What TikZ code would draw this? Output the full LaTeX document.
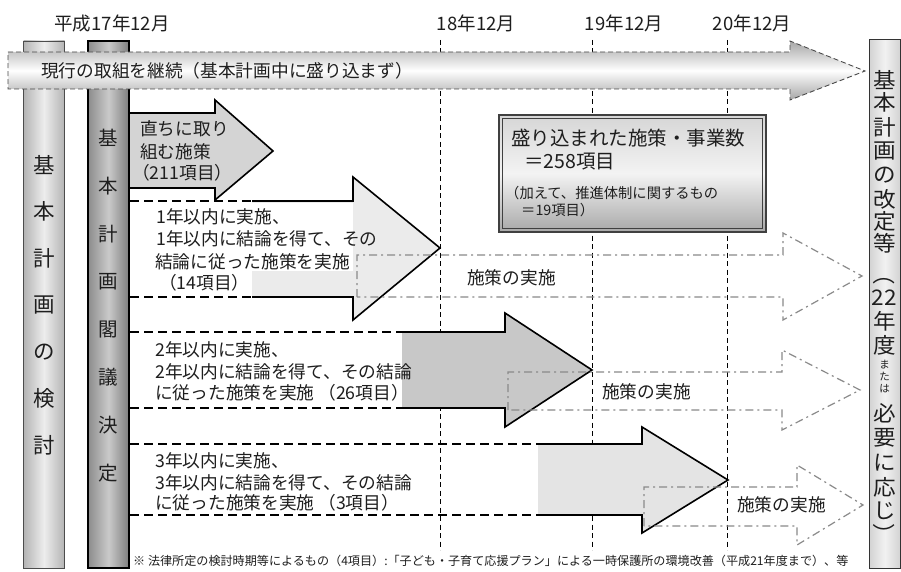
\documentclass[tikz,border=0pt]{standalone}
\usepackage{fontspec}
\setmainfont{Noto Sans CJK JP}
\usetikzlibrary{shadings}
\definecolor{ink}{HTML}{1E1E1E}
\definecolor{ddgray}{HTML}{8A8A8A}
\definecolor{bandedge}{HTML}{A6A6A6}
\definecolor{bandline}{HTML}{4A4A4A}
\definecolor{coloneE}{HTML}{B4B4B4}
\definecolor{coloneM}{HTML}{EDEDED}
\definecolor{coltwoL}{HTML}{8C8C8C}
\definecolor{coltwoR}{HTML}{7E7E7E}
\definecolor{coltwoM}{HTML}{CACACA}
\definecolor{fillA}{HTML}{D4D4D4}
\definecolor{fillB}{HTML}{EBEBEB}
\definecolor{fillC}{HTML}{C8C8C8}
\definecolor{fillD}{HTML}{E4E4E4}
\definecolor{boxTop}{HTML}{D6D6D6}
\definecolor{boxMid}{HTML}{F3F3F3}
\definecolor{boxBot}{HTML}{A8A8A8}
\definecolor{rcolE}{HTML}{D2D2D2}
\definecolor{rcolM}{HTML}{F1F1F1}
\tikzset{
  tline/.style={draw=black, line width=0.8pt, dash pattern=on 5pt off 3.5pt},
  aline/.style={draw=black, line width=1.6pt, line join=miter},
  dline/.style={draw=black, line width=1.6pt, dash pattern=on 9pt off 5pt},
  ddline/.style={draw=ddgray, line width=1.2pt, dash pattern=on 8pt off 4pt on 2pt off 4pt},
  lbl/.style={anchor=west, inner sep=0pt, text=ink},
  fmain/.style={font=\fontsize{17.7}{21}\selectfont},
  fhead/.style={font=\fontsize{18.5}{21}\selectfont},
  fbox/.style={font=\fontsize{19.5}{23}\selectfont},
  fsmall/.style={font=\fontsize{14.3}{17}\selectfont},
  fnote/.style={font=\fontsize{12.1}{14}\selectfont},
  colonetxt/.style={inner sep=0pt, text=ink, font=\fontsize{21.5}{24}\selectfont},
  coltwotxt/.style={inner sep=0pt, text=ink, font=\fontsize{19.5}{22}\selectfont},
  rcoltxt/.style={inner sep=0pt, text=ink, font=\fontsize{21.5}{24}\selectfont, xscale=1.05},
  rcolsmall/.style={inner sep=0pt, text=ink, font=\fontsize{10.5}{12}\selectfont},
}
\begin{document}
\begin{tikzpicture}[x=1pt,y=-1pt]
\useasboundingbox (0,0) rectangle (901,572);
\fill[white] (0,0) rectangle (901,572);

% header labels
\node[fhead, inner sep=0pt, text=ink] (h17) at (112,23) {平成17年12月};
\node[fhead, inner sep=0pt, text=ink] (h18) at (476,23) {18年12月};
\node[fhead, inner sep=0pt, text=ink] (h19) at (624,23) {19年12月};
\node[fhead, inner sep=0pt, text=ink] (h20) at (752,23) {20年12月};

% timeline dashed lines
\foreach \x in {440,592,727} \draw[tline] (\x,40) -- (\x,550);

% left columns
\shadedraw[left color=coloneE, right color=coloneE, middle color=coloneM, draw=black!70, line width=0.9pt] (23.5,41) rectangle (64.5,568);
\shadedraw[left color=coltwoL, right color=coltwoR, middle color=coltwoM, draw=black, line width=1.8pt] (88,41) rectangle (129,568);
\foreach \c [count=\i] in {基,本,計,画,の,検,討}
  \node[colonetxt] (kentou\i) at (44,{165+(\i-1)*46.7}) {\c};
\foreach \c [count=\i] in {基,本,計,画,閣,議,決,定}
  \node[coltwotxt] (kettei\i) at (108.5,{138+(\i-1)*47.9}) {\c};

% top band arrow
\shadedraw[top color=bandedge, bottom color=bandedge, middle color=white, draw=bandline, line width=0.9pt, dash pattern=on 5pt off 3pt]
  (8,52) -- (790,52) -- (790,41) -- (865,71) -- (790,100) -- (790,89) -- (8,89) -- cycle;
\node[lbl, font=\fontsize{17.7}{20}\selectfont] (band) at (41,71) {現行の取組を継続（基本計画中に盛り込まず）};

% arrow A
\fill[fillA] (130,113) -- (215,113) -- (215,100) -- (273,151) -- (215,200) -- (215,188) -- (130,188) -- cycle;
\draw[aline] (130,113) -- (215,113) -- (215,100) -- (273,151) -- (215,200) -- (215,188) -- (130,188);
\node[lbl, fmain] (a1) at (140,129) {直ちに取り};
\node[lbl, fmain] (a2) at (140,152) {組む施策};
\node[lbl, fmain] (a3) at (132,173) {（211項目）};

% arrow B
\fill[fillB] (252,201) -- (353,201) -- (353,177) -- (440,248) -- (353,320) -- (353,297) -- (252,297) -- cycle;
\fill[white] (131,203) rectangle (353,271);
\draw[aline] (252,201) -- (353,201) -- (353,177) -- (440,248) -- (353,320) -- (353,297) -- (252,297);
\draw[dline] (130,201) -- (252,201);
\draw[dline] (130,297) -- (252,297);
\node[lbl, fmain] (b1) at (156,217) {1年以内に実施、};
\node[lbl, fmain] (b2) at (156,239) {1年以内に結論を得て、その};
\node[lbl, fmain] (b3) at (155,262) {結論に従った施策を実施};
\node[lbl, fmain] (b4) at (159,283) {（14項目）};

% arrow C
\fill[fillC] (402,332) -- (505,332) -- (505,313) -- (592,370) -- (505,427) -- (505,408) -- (402,408) -- cycle;
\draw[aline] (402,332) -- (505,332) -- (505,313) -- (592,370) -- (505,427) -- (505,408) -- (402,408);
\draw[dline] (130,332) -- (402,332);
\draw[dline] (130,408) -- (402,408);
\node[lbl, fmain] (c1) at (155,350) {2年以内に実施、};
\node[lbl, fmain] (c2) at (155,372) {2年以内に結論を得て、その結論};
\node[lbl, fmain] (c3) at (155,393) {に従った施策を実施 （26項目）};

% arrow D
\fill[fillD] (538,444) -- (642,444) -- (642,427) -- (728,480) -- (642,533) -- (642,515) -- (538,515) -- cycle;
\draw[aline] (538,444) -- (642,444) -- (642,427) -- (728,480) -- (642,533) -- (642,515) -- (538,515);
\draw[dline] (130,444) -- (538,444);
\draw[dline] (130,515) -- (538,515);
\node[lbl, fmain] (d1) at (155,461) {3年以内に実施、};
\node[lbl, fmain] (d2) at (155,483) {3年以内に結論を得て、その結論};
\node[lbl, fmain] (d3) at (155,503) {に従った施策を実施 （3項目）};

% summary box
\shade[top color=boxTop, bottom color=boxBot, middle color=boxMid] (499,115) rectangle (766,232);
\draw[draw=black!75, line width=1.2pt] (499,115) rectangle (766,232);
\draw[draw=black!75, line width=0.7pt] (502.5,118.5) rectangle (762.5,228.5);
\node[lbl, fbox] (s1) at (511,138) {盛り込まれた施策・事業数};
\node[lbl, fbox] (s2) at (524,162) {＝258項目};
\node[lbl, fsmall] (s3) at (505,193) {（加えて、推進体制に関するもの};
\node[lbl, fsmall] (s4) at (521,210) {＝19項目）};

% dash-dot arrows
\draw[ddline] (357,297) -- (357,255) -- (783,255) -- (783,233) -- (862,276) -- (783,320) -- (783,297) -- cycle;
\node[lbl, fmain] (e1) at (467,278) {施策の実施};
\draw[ddline] (508,410) -- (508,372) -- (782,372) -- (782,350) -- (860,390) -- (782,430) -- (782,410) -- cycle;
\node[lbl, fmain] (e2) at (602,392) {施策の実施};
\draw[ddline] (644,526) -- (644,487) -- (797,487) -- (797,465) -- (863,505) -- (797,545) -- (797,526) -- cycle;
\node[lbl, fmain] (e3) at (737,505) {施策の実施};

% right column
\shadedraw[left color=rcolE, right color=rcolE, middle color=rcolM, draw=black!80, line width=1pt] (869,40) rectangle (900.5,568);
\foreach \c/\y [count=\i] in {基/80,本/102,計/127,画/151,の/175,改/199,定/221,等/243,22/298,年/321,度/345,必/413,要/438,に/463,応/487,じ/511}
  \node[rcoltxt] (kaitei\i) at (884.5,\y) {\c};
\node[rcoltxt, rotate=-90] (lpar) at (884.5,274) {（};
\node[rcoltxt, rotate=-90] (rpar) at (884.5,534) {）};
\node[rcolsmall] (ma) at (884.5,365) {ま};
\node[rcolsmall] (ta) at (884.5,377) {た};
\node[rcolsmall] (ha) at (884.5,389) {は};

% footnote
\node[lbl, fnote] (note) at (133,561) {※ 法律所定の検討時期等によるもの（4項目）:「子ども・子育て応援プラン」による一時保護所の環境改善（平成21年度まで）、等};
\end{tikzpicture}
\end{document}
